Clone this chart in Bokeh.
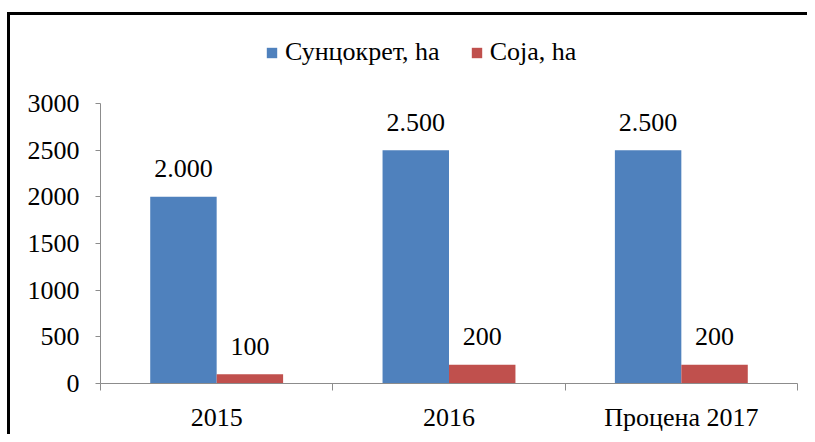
from bokeh.plotting import figure
from bokeh.models import Range1d, FixedTicker, Legend, LegendItem, ColumnDataSource
from bokeh.transform import dodge
from bokeh.core.properties import value
from bokeh.embed import file_html
from bokeh.resources import INLINE

categories = ["2015", "2016", "Процена 2017"]
sunflower = [2000, 2500, 2500]
soy = [100, 200, 200]
series_names = ["Сунцокрет, ha", "Соја, ha"]
y_ticks = [0, 500, 1000, 1500, 2000, 2500, 3000]
y_max = 3000

BLUE = "#4F81BD"
RED = "#C0504D"
AXIS = "#8C8C8C"
FONT = "Liberation Serif"
FS = "26px"

# layout (pixels on the canvas)
W, H = 807, 434
LEFT, RIGHT, TOP, BOTTOM = 100, 797, 20, 383   # plot frame
AXIS_TOP = 103                                 # where y_max sits
y_end = y_max * (BOTTOM - TOP) / (BOTTOM - AXIS_TOP)


def fmt(v):
    return f"{v:,}".replace(",", ".")


xc = [i + 0.5 for i in range(len(categories))]
src = ColumnDataSource(dict(
    x=xc, sun=sunflower, soy=soy,
    sun_lbl=[fmt(v) for v in sunflower],
    soy_lbl=[fmt(v) for v in soy],
))

p = figure(width=W, height=H, output_backend="svg", toolbar_location=None,
           x_range=Range1d(0, len(categories)), y_range=Range1d(0, y_end),
           min_border_left=LEFT, min_border_right=W - RIGHT,
           min_border_top=TOP, min_border_bottom=H - BOTTOM)
p.outline_line_color = None
p.border_fill_color = None
p.background_fill_color = None
p.xgrid.visible = False
p.ygrid.visible = False
# chart frame (black lines at left and top, running off the picture)
p.styles = {
    "background": ("linear-gradient(#000,#000) 7px 12px / 3px 100% no-repeat, "
                   "linear-gradient(#000,#000) 7px 12px / 100% 3px no-repeat, #fff"),
}

off = 0.143
bw = 0.286
r1 = p.vbar(x=dodge("x", -off, range=p.x_range), top="sun", width=bw, source=src,
            fill_color=BLUE, line_color=None)
r2 = p.vbar(x=dodge("x", off, range=p.x_range), top="soy", width=bw, source=src,
            fill_color=RED, line_color=None)

for col, lbl, o in (("sun", "sun_lbl", -off), ("soy", "soy_lbl", off)):
    p.text(x=dodge("x", o, range=p.x_range), y=col, text=lbl, source=src,
           text_align="center", text_baseline="alphabetic", y_offset=-28,
           text_font=value(FONT), text_font_size=FS, text_color="black")

# x axis
xa = p.xaxis[0]
xa.ticker = FixedTicker(ticks=xc, minor_ticks=list(range(len(categories) + 1)))
xa.major_label_overrides = {x: c for x, c in zip(xc, categories)}
xa.major_tick_out = 0
xa.major_tick_in = 0
xa.minor_tick_out = 7
xa.minor_tick_in = 0
xa.minor_tick_line_color = AXIS
xa.axis_line_color = AXIS
xa.major_label_standoff = 12
xa.major_label_text_font = FONT
xa.major_label_text_font_size = FS
xa.major_label_text_color = "black"

ya = p.yaxis[0]
ya.ticker = FixedTicker(ticks=y_ticks, minor_ticks=[])
ya.bounds = (0, y_max)
ya.major_tick_out = 5
ya.major_tick_in = 0
ya.minor_tick_line_color = None
ya.major_tick_line_color = AXIS
ya.axis_line_color = AXIS
ya.major_label_standoff = 16
ya.major_label_text_font = FONT
ya.major_label_text_font_size = FS
ya.major_label_text_color = "black"

legend = Legend(items=[LegendItem(label=series_names[0], renderers=[r1]),
                       LegendItem(label=series_names[1], renderers=[r2])],
                orientation="horizontal", location=(165, 316),
                label_text_font=FONT, label_text_font_size=FS, label_text_color="black",
                glyph_width=13, glyph_height=13, label_standoff=7, spacing=30,
                padding=0, margin=0, border_line_color=None, background_fill_alpha=0)
p.add_layout(legend)

open("out.html", "w").write(file_html(p, INLINE))
